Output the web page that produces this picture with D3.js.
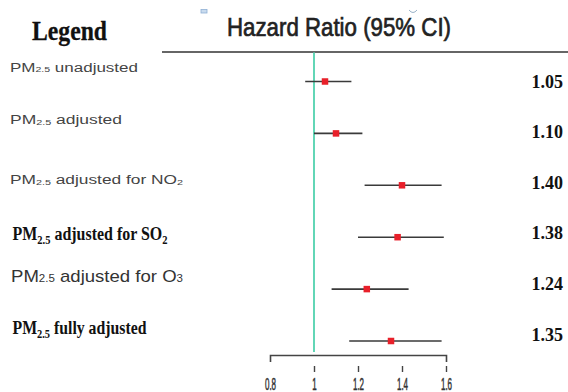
<!DOCTYPE html>
<html>
<head>
<meta charset="utf-8">
<script src="https://cdn.jsdelivr.net/npm/d3@7"></script>
<style>
  html, body { margin: 0; padding: 0; background: #fff; }
  svg { display: block; }
</style>
</head>
<body>
<svg id="chart" width="568" height="392"></svg>
<script>
// ---- data ----
const categories = [
  "PM_{2.5} unadjusted",
  "PM_{2.5} adjusted",
  "PM_{2.5} adjusted for NO_{2}",
  "PM_{2.5} adjusted for SO_{2}",
  "PM_{2.5} adjusted for O_{3}",
  "PM_{2.5} fully adjusted"
];
const hazardRatio = [1.05, 1.10, 1.40, 1.38, 1.24, 1.35];
const lowerCI     = [0.96, 1.00, 1.23, 1.20, 1.08, 1.16];
const upperCI     = [1.17, 1.22, 1.58, 1.59, 1.43, 1.58];
const valueLabels = ["1.05", "1.10", "1.40", "1.38", "1.24", "1.35"];
const tickValues  = [0.8, 1, 1.2, 1.4, 1.6];
const tickLabels  = ["0.8", "1", "1.2", "1.4", "1.6"];
const titleText   = "Hazard Ratio (95% CI)";
const legendTitle = "Legend";

// ---- layout / styles (not data) ----
const SANS = "'Liberation Sans', Arial, Helvetica, sans-serif";
const SERIF = "'Liberation Serif', 'Times New Roman', serif";
const labelStyles = [
  { family: SANS,  weight: "normal", size: 12, x: 10,   width: 128, dy: -9.8, fill: "#444", subSize: 0.62, subDy: 0.5 },
  { family: SANS,  weight: "normal", size: 12, x: 10,   width: 112, dy: -9.4, fill: "#444", subSize: 0.62, subDy: 0.5 },
  { family: SANS,  weight: "normal", size: 12, x: 10,   width: 173, dy: -1,   fill: "#444", subSize: 0.62, subDy: 0.5 },
  { family: SERIF, weight: "bold",   size: 18, x: 12.5, width: 155, dy: 2.8,  fill: "#111", subSize: 0.66, subDy: 4 },
  { family: SANS,  weight: "normal", size: 17, x: 11,   width: 172, dy: -7.4, fill: "#333", subSize: 0.62, subDy: 0.5 },
  { family: SERIF, weight: "bold",   size: 18, x: 12.5, width: 134, dy: -7,   fill: "#111", subSize: 0.66, subDy: 4 }
];

const svg = d3.select("#chart");

const x = d3.scaleLinear().domain([0.8, 1.6]).range([270, 446]);
const idx = d3.range(categories.length);
const yRow = d3.scalePoint().domain(idx).range([81.5, 341]);
const yVal = d3.scalePoint().domain(idx).range([87.5, 340.5]);

// small decorations at top
svg.append("rect").attr("x", 201).attr("y", 9.5).attr("width", 6).attr("height", 3.5)
  .attr("fill", "#c9dbee").attr("stroke", "#8fb0d4").attr("stroke-width", 0.8);
svg.append("path").attr("d", "M409,10 Q413,15 417,10").attr("fill", "none")
  .attr("stroke", "#9bb3c9").attr("stroke-width", 1);

// titles
svg.append("text").attr("x", 32).attr("y", 40)
  .attr("font-family", SERIF).attr("font-weight", "bold").attr("font-size", 27)
  .attr("fill", "#111").attr("stroke", "#111").attr("stroke-width", 0.3)
  .attr("textLength", 75).attr("lengthAdjust", "spacingAndGlyphs")
  .text(legendTitle);

svg.append("text").attr("x", 227).attr("y", 36)
  .attr("font-family", SANS).attr("font-size", 26)
  .attr("fill", "#222").attr("stroke", "#222").attr("stroke-width", 0.7)
  .attr("textLength", 224).attr("lengthAdjust", "spacingAndGlyphs")
  .text(titleText);

// top rule
svg.append("line").attr("x1", 162).attr("x2", 568).attr("y1", 52).attr("y2", 52)
  .attr("stroke", "#333").attr("stroke-width", 1.6);

// reference line at HR = 1
svg.append("line").attr("x1", x(1)).attr("x2", x(1)).attr("y1", 52.5).attr("y2", 352)
  .attr("stroke", "#62d6b6").attr("stroke-width", 2);

// CI lines
svg.append("g").selectAll("line").data(idx).join("line")
  .attr("x1", i => x(lowerCI[i])).attr("x2", i => x(upperCI[i]))
  .attr("y1", i => yRow(i)).attr("y2", i => yRow(i))
  .attr("stroke", "#3a3a3a").attr("stroke-width", 1.6);

// point estimates
const sq = 6.5;
svg.append("g").selectAll("rect").data(idx).join("rect")
  .attr("x", i => x(hazardRatio[i]) - sq / 2).attr("y", i => yRow(i) - sq / 2)
  .attr("width", sq).attr("height", sq).attr("fill", "#e8202a");

// value labels
svg.append("g").selectAll("text").data(idx).join("text")
  .attr("x", 531.5).attr("y", i => yVal(i))
  .attr("font-family", SERIF).attr("font-weight", "bold").attr("font-size", 18)
  .attr("fill", "#111")
  .attr("textLength", 31.5).attr("lengthAdjust", "spacingAndGlyphs")
  .text(i => valueLabels[i]);

// row labels with subscripts
function parseLabel(s) {
  const parts = [];
  const re = /_\{([^}]*)\}/g;
  let last = 0, m;
  while ((m = re.exec(s)) !== null) {
    if (m.index > last) parts.push({ t: s.slice(last, m.index), sub: false });
    parts.push({ t: m[1], sub: true });
    last = re.lastIndex;
  }
  if (last < s.length) parts.push({ t: s.slice(last), sub: false });
  return parts;
}
const labelG = svg.append("g");
idx.forEach(i => {
  const st = labelStyles[i];
  const t = labelG.append("text")
    .attr("x", st.x).attr("y", yRow(i) + st.dy)
    .attr("font-family", st.family).attr("font-weight", st.weight)
    .attr("font-size", st.size).attr("fill", st.fill)
    .attr("textLength", st.width).attr("lengthAdjust", "spacingAndGlyphs");
  let shifted = 0;
  parseLabel(categories[i]).forEach(p => {
    const ts = t.append("tspan").text(p.t);
    if (p.sub) {
      ts.attr("font-size", st.size * st.subSize).attr("dy", st.subDy - shifted);
      shifted = st.subDy;
    } else {
      ts.attr("dy", -shifted);
      shifted = 0;
    }
  });
});

// x axis
const axis = d3.axisBottom(x).tickValues(tickValues).tickSizeInner(0).tickSizeOuter(7)
  .tickFormat((d, i) => tickLabels[i]);
const ax = svg.append("g").attr("transform", "translate(0,355)").call(axis);
ax.select(".domain").attr("stroke", "#444").attr("stroke-width", 1.6);
ax.selectAll(".tick line").remove();
ax.selectAll(".tick").filter(d => d !== 0.8).append("line")
  .attr("y1", 11).attr("y2", 17).attr("stroke", "#444").attr("stroke-width", 1.4);
ax.selectAll(".tick text")
  .attr("y", 35).attr("dy", 0)
  .attr("font-family", SANS).attr("font-size", 16).attr("fill", "#333")
  .attr("stroke", "#333").attr("stroke-width", 0.5)
  .each(function () {
    const w = this.getComputedTextLength();
    d3.select(this).attr("textLength", w * 0.5).attr("lengthAdjust", "spacingAndGlyphs");
  });
</script>
</body>
</html>
